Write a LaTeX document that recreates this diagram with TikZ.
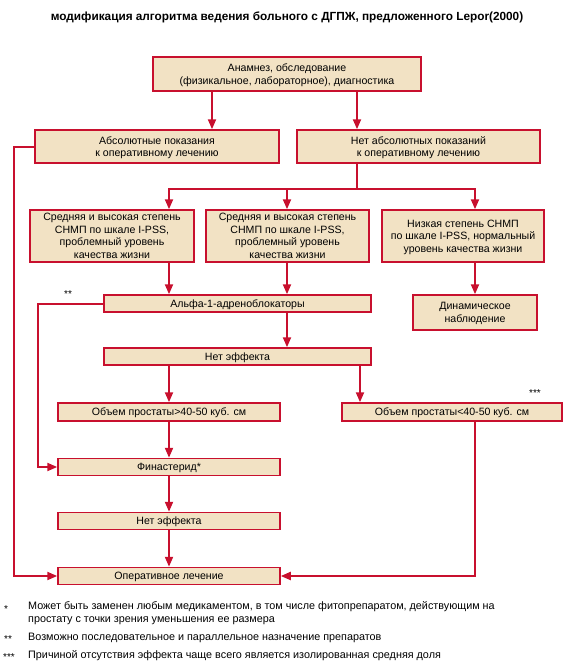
\documentclass[tikz,border=0pt]{standalone}
\usepackage{fontspec}
\setmainfont{Liberation Sans}
\usetikzlibrary{arrows.meta,calc}
\definecolor{crim}{HTML}{C8102E}
\definecolor{beige}{HTML}{F2E2C4}
\begin{document}
\begin{tikzpicture}[x=1pt,y=-1pt,
  box/.style={draw=crim,fill=beige,line width=1.5pt,align=center,inner sep=1pt,
    text depth=0pt,font=\fontsize{10.6}{12.5}\selectfont},
  arr/.style={draw=crim,line width=2pt,-{Triangle[length=10pt,width=8pt]}},
  ln/.style={draw=crim,line width=2pt},
  fn/.style={anchor=base west,inner sep=0pt,font=\fontsize{10.8}{12}\selectfont},
  star/.style={anchor=base west,inner sep=0pt,font=\fontsize{10}{12}\selectfont}]
\useasboundingbox (0,0) rectangle (565,661);
\node[font=\bfseries\fontsize{11.8}{13}\selectfont] (title) at (287,17) {модификация алгоритма ведения больного с ДГПЖ, предложенного Lepor(2000)};

\node[box,minimum width=268pt,minimum height=34pt] (b1) at (287,74) {Анамнез, обследование\\(физикальное, лабораторное), диагностика};
\node[box,minimum width=244pt,minimum height=33pt] (b2) at (157,146.5) {Абсолютные показания\\к оперативному лечению};
\node[box,minimum width=243pt,minimum height=33pt] (b3) at (418.5,146.5) {Нет абсолютных показаний\\к оперативному лечению};
\node[box,minimum width=164pt,minimum height=52pt] (b4) at (112,236) {Средняя и высокая степень\\СНМП по шкале I-PSS,\\проблемный уровень\\качества жизни};
\node[box,minimum width=163pt,minimum height=52pt] (b5) at (287.5,236) {Средняя и высокая степень\\СНМП по шкале I-PSS,\\проблемный уровень\\качества жизни};
\node[box,minimum width=162pt,minimum height=52pt] (b6) at (463,236) {Низкая степень СНМП\\по шкале I-PSS, нормальный\\уровень качества жизни};
\node[box,minimum width=267pt,minimum height=17pt] (alpha) at (237.5,303.5) {Альфа-1-адреноблокаторы};
\node[box,minimum width=124pt,minimum height=35pt] (dyn) at (475,312.5) {Динамическое\\наблюдение};
\node[box,minimum width=267pt,minimum height=17pt] (ne1) at (237.5,356.5) {Нет эффекта};
\node[box,minimum width=222pt,minimum height=18pt] (vg) at (169,412) {Объем простаты>40-50 куб. см};
\node[box,minimum width=220pt,minimum height=18pt] (vl) at (452,412) {Объем простаты<40-50 куб. см};
\node[box,minimum width=222pt,minimum height=17pt] (fin) at (169,467) {Финастерид*};
\node[box,minimum width=222pt,minimum height=17pt] (ne2) at (169,521) {Нет эффекта};
\node[box,minimum width=222pt,minimum height=17pt] (op) at (169,576) {Оперативное лечение};

\node[star] (s2) at (64,297) {**};
\node[star] (s3) at (529,396) {***};

% column coordinates
\coordinate (xA) at (212,0);
\coordinate (xB) at (357,0);
\coordinate (xC) at (169,0);
\coordinate (xD) at (287,0);
\coordinate (xE) at (475,0);
\coordinate (xF) at (360,0);
\coordinate (xL1) at (14,0);
\coordinate (xL2) at (38,0);
\coordinate (yBr) at (0,189);

\draw[arr] (b1.south -| xA) -- (b2.north -| xA);
\draw[arr] (b1.south -| xB) -- (b3.north -| xB);
\draw[ln] (b3.south -| xB) -- (yBr -| xB);
\draw[ln,line cap=rect] (yBr -| xC) -- (yBr -| xE);
\draw[arr] (yBr -| xC) -- (b4.north -| xC);
\draw[arr] (yBr -| xD) -- (b5.north -| xD);
\draw[arr] (yBr -| xE) -- (b6.north -| xE);
\draw[arr] (b4.south -| xC) -- (alpha.north -| xC);
\draw[arr] (b5.south -| xD) -- (alpha.north -| xD);
\draw[arr] (b6.south -| xE) -- (dyn.north -| xE);
\draw[arr] (alpha.south -| xD) -- (ne1.north -| xD);
\draw[arr] (ne1.south -| xC) -- (vg.north -| xC);
\draw[arr] (ne1.south -| xF) -- (vl.north -| xF);
\draw[arr] (vg) -- (fin);
\draw[arr] (fin) -- (ne2);
\draw[arr] (ne2) -- (op);
\draw[arr] (vl.south -| xE) |- (op.east);
\draw[arr] (b2.west) -| (xL1 |- op) -- (op.west);
\draw[arr] (alpha.west) -| (xL2 |- fin) -- (fin.west);

% footnotes
\node[star] (f1m) at (4,612) {*};
\node[fn] (f1a) at (28,609) {Может быть заменен любым медикаментом, в том числе фитопрепаратом, действующим на};
\node[fn] (f1b) at (28,622) {простату с точки зрения уменьшения ее размера};
\node[star] (f2m) at (4,642) {**};
\node[fn] (f2) at (28,640) {Возможно последовательное и параллельное назначение препаратов};
\node[star] (f3m) at (3,660) {***};
\node[fn] (f3) at (28,658) {Причиной отсутствия эффекта чаще всего является изолированная средняя доля};
\end{tikzpicture}
\end{document}
